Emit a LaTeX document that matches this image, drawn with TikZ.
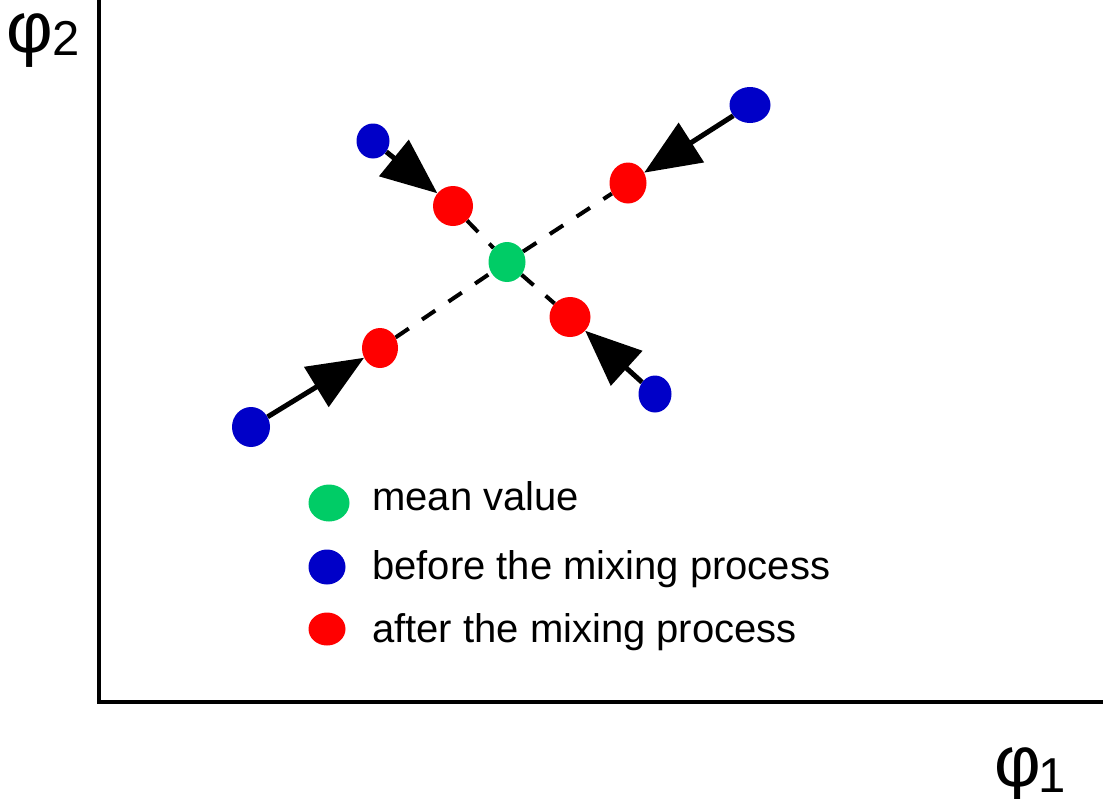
\documentclass[tikz,border=0pt]{standalone}
\usepackage{fontspec}
\setmainfont{Liberation Sans}
\usetikzlibrary{shapes.geometric,arrows.meta,backgrounds}
\definecolor{dotblue}{RGB}{0,0,200}
\definecolor{dotred}{RGB}{255,0,0}
\definecolor{dotgreen}{RGB}{0,204,102}
\tikzset{
  dot/.style={ellipse,inner sep=0pt,draw=none},
  bluedot/.style={dot,fill=dotblue},
  reddot/.style={dot,fill=dotred},
  greendot/.style={dot,fill=dotgreen},
  mixarrow/.style={line width=5pt,-{Triangle[length=56pt 0,width=46pt 0]}},
  meanline/.style={line width=4pt,dash pattern=on 16pt off 16pt},
  axisline/.style={line width=4pt},
  legendtext/.style={anchor=base west,inner sep=0pt,font=\fontsize{40}{48}\selectfont},
  axislabel/.style={anchor=base west,inner sep=0pt}
}
\begin{document}
\begin{tikzpicture}[x=1pt,y=-1pt]
  \useasboundingbox (0,0) rectangle (1103,798);

  % axes
  \coordinate (ytop) at (98.5,0);
  \coordinate (origin) at (98.5,701.5);
  \coordinate (xend) at (1103,701.5);
  \draw[axisline] (ytop) -- (origin) -- (xend);

  \node[axislabel] (ylabel) at (6,52)
    {\fontsize{72}{72}\selectfont φ\raisebox{-3pt}{\fontsize{49}{49}\selectfont 2}};
  \node[axislabel] (xlabel) at (994,786)
    {\fontsize{72}{72}\selectfont φ\kern-2pt\raisebox{-6pt}{\fontsize{49}{49}\selectfont 1}};

  % composition points
  \node[greendot,minimum width=37pt,minimum height=40pt] (g)  at (507,262) {};
  \node[bluedot, minimum width=33pt,minimum height=35pt] (b1) at (373,141) {};
  \node[reddot,  minimum width=40pt,minimum height=40pt] (r1) at (453,206) {};
  \node[bluedot, minimum width=41pt,minimum height=36pt] (b2) at (750,105) {};
  \node[reddot,  minimum width=37pt,minimum height=41pt] (r2) at (628,183) {};
  \node[reddot,  minimum width=41pt,minimum height=40pt] (r3) at (570,317) {};
  \node[bluedot, minimum width=33pt,minimum height=37pt] (b3) at (655,394) {};
  \node[reddot,  minimum width=36pt,minimum height=40pt] (r4) at (380,348) {};
  \node[bluedot, minimum width=38pt,minimum height=40pt] (b4) at (251,427) {};

  \begin{pgfonlayer}{background}
    \draw[meanline] (r1) -- (g);
    \draw[meanline] (g) -- (r3);
    \draw[meanline] (r4) -- (g);
    \draw[meanline] (g) -- (r2);
    \draw[mixarrow] (b1) -- (r1);
    \draw[mixarrow] (b2) -- (r2);
    \draw[mixarrow] (b3) -- (r3);
    \draw[mixarrow] (b4) -- (r4);
  \end{pgfonlayer}

  % legend
  \node[greendot,minimum width=41pt,minimum height=37pt] (lg) at (329,503) {};
  \node[bluedot, minimum width=37pt,minimum height=35pt] (lb) at (327,567) {};
  \node[reddot,  minimum width=37pt,minimum height=33pt] (lr) at (327,629) {};
  \node[legendtext] (tg) at (372,510) {mean value};
  \node[legendtext] (tb) at (372,579) {before the mixing process};
  \node[legendtext] (tr) at (372,642) {after the mixing process};
\end{tikzpicture}
\end{document}
